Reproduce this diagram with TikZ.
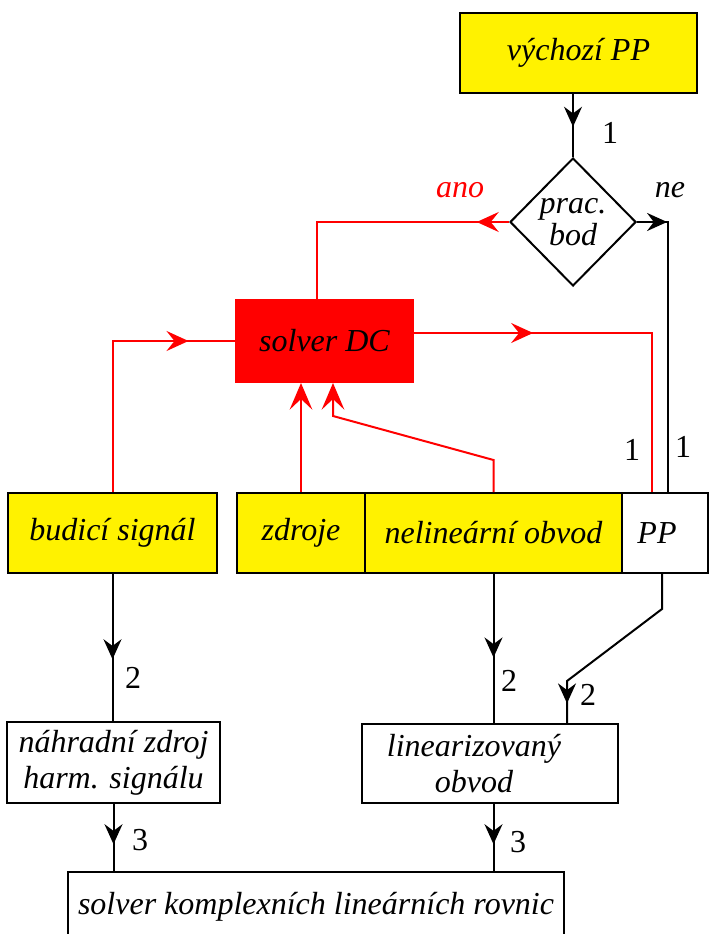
\documentclass[tikz,border=0pt]{standalone}
\usepackage{fontspec}
\setmainfont{Liberation Serif}
\usetikzlibrary{arrows.meta, calc, decorations.markings, positioning, shapes.geometric}
\tikzset{
    boxnode/.style = {draw, rectangle, line width=1.5pt, inner sep=0pt, align=center,
      font=\fontsize{24}{27}\selectfont\itshape},
    yellownode/.style = {boxnode, fill=yellow},
    rednode/.style = {boxnode, draw=red, fill=red},
    decisionnode/.style = {draw, diamond, line width=1.5pt, inner sep=0pt, align=center,
      font=\fontsize{24}{24}\selectfont\itshape},
    textnode/.style = {draw=none, fill=none, inner sep=0pt, font=\fontsize{24}{27}\selectfont},
    labelnode/.style = {textnode, font=\fontsize{24}{27}\selectfont\itshape},
    connect/.style = {black, line width=1.5pt},
    redconnect/.style = {red, line width=1.5pt},
    arrowend/.style = {-{Stealth[length=20pt, width=17pt, inset=8pt]}},
    midarrow/.style = {postaction={decorate}, decoration={markings,
      mark=at position #1 with {\arrow{Stealth[length=15pt, width=13.5pt, inset=5pt]}}}},
    redmidarrow/.style = {postaction={decorate}, decoration={markings,
      mark=at position #1 with {\arrow{Stealth[length=16.5pt, width=15pt, inset=6pt]}}}}
}

\begin{document}
\begin{tikzpicture}[x=0.75pt, y=-0.75pt]
\useasboundingbox (0,0) rectangle (709,934);
\node[yellownode, name=vychozi, minimum width=177.75pt, minimum height=60pt] at (578.5,53) {výchozí PP};
\node[decisionnode, name=bod, minimum width=94.5pt, minimum height=96pt] at (573,222) {prac.\\bod};
\node[rednode, name=solverdc, minimum width=132.75pt, minimum height=61.5pt] at (324.5,341) {solver DC};
\node[yellownode, name=budici, minimum width=156.75pt, minimum height=60pt] at (112.5,533) {budicí signál};
\node[yellownode, name=zdroje, minimum width=96pt, minimum height=60pt] at (301,533) {zdroje};
\node[yellownode, name=nelin, right=-1.5pt of zdroje, minimum width=192.75pt, minimum height=60pt] {nelineární obvod};
\node[boxnode, name=pp, right=-1.5pt of nelin, minimum width=64.5pt, minimum height=60pt] {PP\hspace*{0.5em}};
\node[boxnode, name=nahradni, minimum width=159.75pt, minimum height=60.75pt] at (113.5,762.5) {náhradní zdroj\\harm. signálu};
\node[boxnode, name=linear, minimum width=192pt, minimum height=59.25pt] at (490,763.5) {linearizovaný\hspace*{1em}\\obvod\hspace*{1em}};
\node[boxnode, name=solverkomp, minimum width=372pt, minimum height=52.5pt] at (316,907) {solver komplexních lineárních rovnic};

\node[labelnode, name=ano, red] at (460,190) {ano};
\node[labelnode, name=ne] at (670,190) {ne};
\node[textnode, name=jedna] at (610,133) {1};
\node[textnode, name=jednared] at (632,450) {1};
\node[textnode, name=jednablack] at (683,447) {1};
\node[textnode, name=dvabudici] at (133,678) {2};
\node[textnode, name=dvanelin] at (509,681) {2};
\node[textnode, name=dvapp] at (588,695) {2};
\node[textnode, name=trinahradni] at (140,840) {3};
\node[textnode, name=trilinear] at (518,842) {3};

\draw[connect, midarrow=0.52] (bod.north |- vychozi.south) -- (bod.north);
\draw[redconnect, redmidarrow=0.12] (bod.west) -| ($(solverdc.north)+(-7.5,0)$);
\draw[connect, midarrow=0.1] (bod.east) -| ($(pp.north)+(3,0)$);
\draw[redconnect, redmidarrow=0.83] (budici.north) |- (solverdc.west);
\draw[redconnect, redmidarrow=0.3] ($(solverdc.east)+(0,-8)$) -| ($(pp.north)+(-13,0)$);
\draw[redconnect, arrowend] (zdroje.north) -- (zdroje.north |- solverdc.south);
\draw[redconnect, arrowend] (nelin.north) -- ++(0,-32) -- ($(solverdc.south)+(8.5,33)$) -- ($(solverdc.south)+(8.5,0)$);
\draw[connect, midarrow=0.58] (budici.south) -- (budici.south |- nahradni.north);
\draw[connect, midarrow=0.56] (nelin.south) -- (nelin.south |- linear.north);
\draw[connect, midarrow=0.9] ($(pp.south)+(-3,0)$) -- ++(0,35) -- ($(linear.north)+(77,-42)$) -- ($(linear.north)+(77,0)$);
\draw[connect, midarrow=0.6] (nahradni.south) -- (nahradni.south |- solverkomp.north);
\draw[connect, midarrow=0.6] (nelin.south |- linear.south) -- (nelin.south |- solverkomp.north);
\end{tikzpicture}
\end{document}
